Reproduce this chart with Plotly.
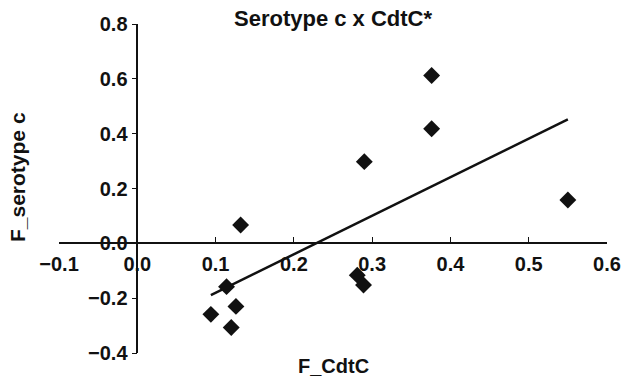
import numpy as np
import plotly.graph_objects as go

# Data
f_cdtc = [0.376, 0.376, 0.290, 0.550, 0.132, 0.114, 0.126, 0.094, 0.120, 0.281, 0.289]
f_serotype_c = [0.612, 0.418, 0.298, 0.158, 0.067, -0.158, -0.230, -0.259, -0.307, -0.116, -0.152]

x_ticks = [-0.1, 0.0, 0.1, 0.2, 0.3, 0.4, 0.5, 0.6]
y_ticks = [-0.4, -0.2, 0.0, 0.2, 0.4, 0.6, 0.8]

title_text = "Serotype c x CdtC*"
x_title = "F_CdtC"
y_title = "F_serotype c"

# Linear trend line over the data range
slope, intercept = np.polyfit(f_cdtc, f_serotype_c, 1)
tx = [min(f_cdtc), max(f_cdtc)]
ty = [slope * v + intercept for v in tx]

FONT = "Liberation Sans, Arial, sans-serif"

fig = go.Figure()
fig.add_trace(go.Scatter(
    x=tx, y=ty, mode="lines",
    line=dict(color="#111111", width=2.5),
    hoverinfo="skip", showlegend=False,
))
fig.add_trace(go.Scatter(
    x=f_cdtc, y=f_serotype_c, mode="markers",
    marker=dict(symbol="diamond", size=13, color="#111111"),
    showlegend=False,
))

xr = [x_ticks[0], x_ticks[-1]]
yr = [y_ticks[0], y_ticks[-1]]

fig.update_layout(
    width=621, height=374,
    margin=dict(l=51, r=22, t=16, b=29, autoexpand=False),
    paper_bgcolor="white", plot_bgcolor="white",
    font=dict(family=FONT, color="#111111"),
    xaxis=dict(
        range=xr, tickvals=x_ticks, tickformat=".1f",
        anchor="free", position=(0 - yr[0]) / (yr[1] - yr[0]),
        showline=True, linecolor="#111111", linewidth=1.5,
        ticks="inside", ticklen=6, tickcolor="#111111", tickwidth=1,
        showgrid=False, zeroline=False, automargin=False,
        ticklabelstandoff=3,
        tickfont=dict(size=20, family=FONT, weight="bold", color="#111111"),
    ),
    yaxis=dict(
        range=yr, tickvals=y_ticks, tickformat=".1f",
        anchor="free", position=(0 - xr[0]) / (xr[1] - xr[0]),
        showline=True, linecolor="#111111", linewidth=1.5,
        ticks="outside", ticklen=5, tickcolor="#111111", tickwidth=1,
        showgrid=False, zeroline=False, automargin=False,
        tickfont=dict(size=20, family=FONT, weight="bold", color="#111111"),
    ),
    annotations=[
        dict(text=title_text, xref="paper", yref="paper", x=0.5, y=1.018,
             xanchor="center", yanchor="middle", showarrow=False,
             font=dict(size=22, family=FONT, weight="bold", color="#111111")),
        dict(text=x_title, xref="paper", yref="paper", x=0.5, y=-0.04,
             xanchor="center", yanchor="middle", showarrow=False,
             font=dict(size=20, family=FONT, weight="bold", color="#111111")),
        dict(text=y_title, xref="paper", yref="paper", x=-0.0748, y=0.535,
             xanchor="center", yanchor="middle", showarrow=False, textangle=-90,
             font=dict(size=21, family=FONT, weight="bold", color="#111111")),
    ],
)

fig.write_html("out.html")
